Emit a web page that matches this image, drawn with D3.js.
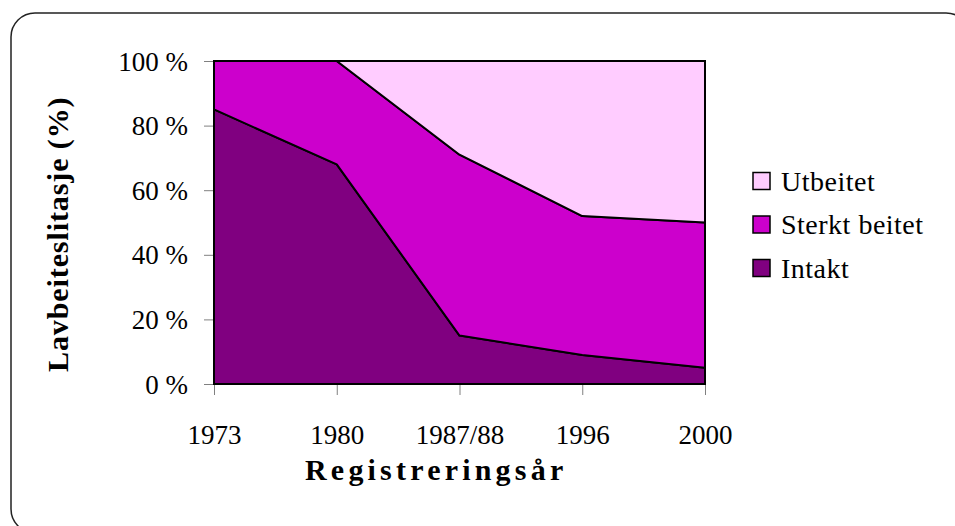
<!DOCTYPE html>
<html><head><meta charset="utf-8">
<script src="https://cdn.jsdelivr.net/npm/d3@7"></script>
<style>body{margin:0;background:#fff}svg{display:block}text{font-family:"Liberation Serif","Times New Roman",serif}</style>
</head><body><svg id="c" width="955" height="526"></svg>
<script>
const categories = ["1973","1980","1987/88","1996","2000"];
const intakt = [85, 68, 15, 9, 5];
const sterktBeitet = [15, 32, 56, 43, 45];
const utbeitet = [0, 0, 29, 48, 50];
const seriesNames = ["Intakt","Sterkt beitet","Utbeitet"];
const seriesColors = ["#800080","#CC00CC","#FFCCFF"];
const yTicks = [0, 0.2, 0.4, 0.6, 0.8, 1.0];

const svg = d3.select("#c");
svg.append("rect").attr("x",11).attr("y",13).attr("width",959).attr("height",520)
  .attr("rx",24).attr("ry",24).attr("fill","none").attr("stroke","#222").attr("stroke-width",1.5);

const L=214,R=705,T=61,B=384;
const x = d3.scalePoint().domain(categories).range([L,R]);
const y = d3.scaleLinear().domain([0,1]).range([B,T]);

const rows = categories.map((c,i)=>({cat:c,"Intakt":intakt[i]/100,"Sterkt beitet":sterktBeitet[i]/100,"Utbeitet":utbeitet[i]/100}));
const stack = d3.stack().keys(seriesNames)(rows);
const area = d3.area().x(d=>x(d.data.cat)).y0(d=>y(d[0])).y1(d=>y(d[1]));

svg.append("g").selectAll("path").data(stack).join("path")
  .attr("d",area).attr("fill",(d,i)=>seriesColors[i]).attr("stroke","#000").attr("stroke-width",2).attr("stroke-linejoin","round");

// axes
const yAxis = d3.axisLeft(y).tickValues(yTicks).tickFormat(d=>Math.round(d*100)+" %").tickSize(10).tickPadding(16);
const gy = svg.append("g").attr("transform",`translate(${L},0)`).call(yAxis);
gy.select(".domain").remove();
gy.selectAll("line").attr("stroke","#808080");
gy.selectAll("text").attr("font-size",27).attr("fill","#000").attr("dy","0.34em");

const xAxis = d3.axisBottom(x).tickSize(11).tickPadding(30);
const gx = svg.append("g").attr("transform",`translate(0,${B})`).call(xAxis);
gx.select(".domain").remove();
gx.selectAll("line").attr("stroke","#808080");
gx.selectAll("text").attr("font-size",27).attr("fill","#000");

// redraw frame edges on top
svg.append("rect").attr("x",L).attr("y",T).attr("width",R-L).attr("height",B-T).attr("fill","none").attr("stroke","#000").attr("stroke-width",2);

// titles
svg.append("text").attr("x",305).attr("y",480).attr("text-anchor","start")
  .attr("font-size",30).attr("font-weight","bold").attr("letter-spacing","4.2px").text("Registreringsår");
svg.append("text").attr("transform","translate(68,372) rotate(-90)").attr("text-anchor","start")
  .attr("font-size",30).attr("font-weight","bold").attr("letter-spacing","0.9px").text("Lavbeiteslitasje (%)");

// legend (top to bottom: Utbeitet, Sterkt beitet, Intakt)
const legendOrder = [2,1,0];
const lg = svg.append("g").selectAll("g").data(legendOrder).join("g")
  .attr("transform",(d,i)=>`translate(753,${181 + i*43.5})`);
lg.append("rect").attr("x",0).attr("y",-8.5).attr("width",17).attr("height",17)
  .attr("fill",d=>seriesColors[d]).attr("stroke","#000").attr("stroke-width",1.5);
lg.append("text").attr("x",28).attr("y",0).attr("dy","0.35em").attr("font-size",28).attr("letter-spacing","0.5px")
  .text(d=>seriesNames[d]);
</script></body></html>
